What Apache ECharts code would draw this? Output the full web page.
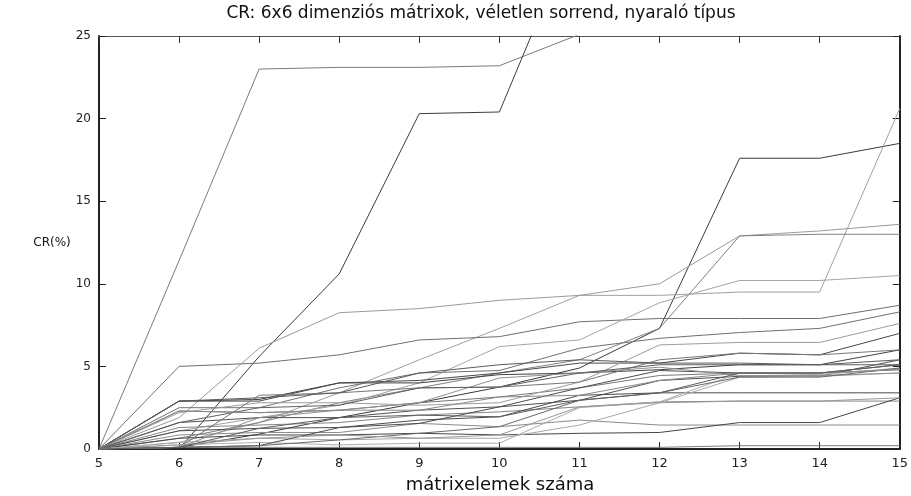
<!DOCTYPE html>
<html>
<head>
<meta charset="utf-8">
<script src="https://cdn.jsdelivr.net/npm/echarts@6/dist/echarts.min.js"></script>
<style>html,body{margin:0;padding:0;background:#fff}#c{width:911px;height:496px}</style>
</head>
<body>
<div id="c"></div>
<script>
const categories = [5, 6, 7, 8, 9, 10, 11, 12, 13, 14, 15];
const yTicks = [0, 5, 10, 15, 20, 25];

const s01 = [0, 11.4, 23.0, 23.1, 23.1, 23.2, 25.1, 27.5, 28.5, 29.5, 30.5];
const s02 = [0, 0.0, 5.6, 10.6, 20.3, 20.4, 32, 33, 34, 35, 36];
const s03 = [0, 0.1, 0.9, 1.9, 2.8, 3.75, 4.9, 7.3, 17.6, 17.6, 18.5];
const s04 = [0, 0.4, 1.6, 3.4, 5.4, 7.3, 9.3, 9.3, 9.5, 9.5, 20.6];
const s05 = [0, 5.0, 5.2, 5.7, 6.6, 6.8, 7.7, 7.9, 7.9, 7.9, 8.7];
const s06 = [0, 1.9, 6.1, 8.25, 8.5, 9.0, 9.3, 10.0, 12.9, 13.2, 13.6];
const s07 = [0, 0.65, 1.6, 2.8, 3.7, 4.6, 5.4, 7.3, 12.9, 13.0, 13.0];
const s08 = [0, 1.1, 1.9, 2.65, 4.0, 6.2, 6.6, 8.85, 10.2, 10.2, 10.5];
const s09 = [0, 2.9, 3.0, 4.0, 4.0, 4.5, 4.6, 4.8, 5.1, 5.1, 6.0];
const s10 = [0, 2.9, 2.9, 4.0, 4.15, 4.6, 5.2, 5.2, 5.8, 5.7, 7.0];
const s11 = [0, 2.5, 2.5, 3.7, 4.6, 4.75, 6.1, 6.7, 7.05, 7.3, 8.3];
const s12 = [0, 2.3, 2.2, 2.35, 2.8, 3.15, 3.7, 4.45, 4.6, 4.6, 4.8];
const s13 = [0, 2.2, 2.8, 2.8, 2.65, 2.8, 4.05, 6.3, 6.45, 6.45, 7.6];
const s14 = [0, 1.6, 1.9, 1.9, 2.35, 2.55, 2.95, 4.15, 4.4, 4.4, 5.4];
const s15 = [0, 1.3, 1.45, 1.6, 2.05, 2.25, 2.55, 2.85, 2.9, 2.9, 2.9];
const s16 = [0, 1.1, 1.25, 1.3, 1.75, 1.95, 3.25, 3.4, 3.4, 3.4, 3.4];
const s17 = [0, 0.85, 1.0, 1.0, 1.55, 1.35, 1.75, 1.45, 1.45, 1.45, 1.45];
const s18 = [0, 0.65, 0.85, 0.85, 0.95, 0.85, 0.95, 1.0, 1.6, 1.6, 3.1];
const s19 = [0, 0.4, 0.65, 0.55, 0.65, 0.65, 1.45, 2.8, 4.35, 4.4, 4.6];
const s20 = [0, 0.25, 0.4, 0.25, 0.35, 0.35, 2.5, 2.85, 4.6, 4.5, 4.9];
const s21 = [0, 0.1, 0.1, 0.1, 0.1, 0.1, 0.1, 0.1, 0.2, 0.2, 0.2];
const s22 = [0, 0.1, 0.2, 1.3, 1.55, 2.55, 3.7, 4.75, 4.6, 4.6, 5.1];
const s23 = [0, 0.1, 3.25, 3.4, 3.7, 3.75, 4.05, 5.4, 5.8, 5.7, 6.0];
const s24 = [0, 2.9, 3.1, 3.4, 4.6, 5.1, 5.4, 5.2, 5.2, 5.1, 5.4];
const s25 = [0, 0.1, 1.9, 2.35, 2.8, 4.3, 4.6, 4.95, 4.45, 4.45, 4.6];
const s26 = [0, 0.1, 0.2, 0.55, 0.95, 1.35, 2.95, 3.4, 4.35, 4.35, 4.9];
const s27 = [0, 0.25, 0.65, 0.85, 0.65, 0.85, 2.55, 2.8, 2.9, 2.9, 3.1];
const s28 = [0, 1.6, 2.5, 2.65, 3.7, 3.75, 4.6, 5.1, 5.1, 5.1, 5.1];
const s29 = [0, 2.3, 2.2, 2.35, 2.35, 3.15, 3.25, 4.15, 4.6, 4.6, 4.8];
const s30 = [0, 0.1, 1.25, 1.9, 2.05, 1.95, 2.95, 3.4, 4.6, 4.6, 5.1];

const allSeries = [s01,s02,s03,s04,s05,s06,s07,s08,s09,s10,s11,s12,s13,s14,s15,
                   s16,s17,s18,s19,s20,s21,s22,s23,s24,s25,s26,s27,s28,s29,s30];
const greys = ['#7a7a7a','#3c3c3c','#3a3a3a','#a0a0a0','#6e6e6e','#9a9a9a','#808080','#a4a4a4',
               '#404040','#484848','#707070','#777777','#9c9c9c','#505050','#858585','#4a4a4a',
               '#8a8a8a','#454545','#a8a8a8','#acacac','#7c7c7c','#4c4c4c','#767676','#5a5a5a',
               '#909090','#6a6a6a','#989898','#606060','#888888','#5e5e5e'];

const chart = echarts.init(document.getElementById('c'), null, {renderer: 'canvas'});
const font = 'DejaVu Sans';
const axisCommon = {
  type: 'value', min: 5, max: 15, interval: 1,
  splitLine: {show: false}
};
chart.setOption({
  animation: false,
  backgroundColor: '#fff',
  grid: {left: 99, right: 6, top: 36, bottom: 47, containLabel: false},
  graphic: [
    {type: 'text', x: 481, y: 14, style: {text: 'CR: 6x6 dimenziós mátrixok, véletlen sorrend, nyaraló típus', font: '17px "DejaVu Sans"', fill: '#111', textAlign: 'center', textVerticalAlign: 'middle'}},
    {type: 'text', x: 52, y: 243, style: {text: 'CR(%)', font: '12px "DejaVu Sans"', fill: '#111', textAlign: 'center', textVerticalAlign: 'middle'}},
    {type: 'text', x: 500, y: 485, style: {text: 'mátrixelemek száma', font: '18px "DejaVu Sans"', fill: '#111', textAlign: 'center', textVerticalAlign: 'middle'}}
  ],
  xAxis: [
    Object.assign({}, axisCommon, {
      position: 'bottom',
      axisLine: {show: true, onZero: false, lineStyle: {color: '#222', width: 2}},
      axisTick: {show: true, inside: true, length: 7, lineStyle: {color: '#222'}},
      axisLabel: {show: true, margin: 8, color: '#222', fontFamily: font, fontSize: 13,
        formatter: v => categories.indexOf(v) >= 0 ? String(v) : ''}
    }),
    Object.assign({}, axisCommon, {
      position: 'top',
      axisLine: {show: true, onZero: false, lineStyle: {color: '#555', width: 1}},
      axisTick: {show: true, inside: true, length: 7, lineStyle: {color: '#333'}},
      axisLabel: {show: false}
    })
  ],
  yAxis: [
    {
      type: 'value', min: 0, max: 25, interval: 5, position: 'left',
      splitLine: {show: false},
      axisLine: {show: true, onZero: false, lineStyle: {color: '#222', width: 2}},
      axisTick: {show: true, inside: true, length: 7, lineStyle: {color: '#222'}},
      axisLabel: {show: true, margin: 8, color: '#222', fontFamily: font, fontSize: 12,
        formatter: v => yTicks.indexOf(v) >= 0 ? String(v) : ''}
    },
    {
      type: 'value', min: 0, max: 25, interval: 5, position: 'right',
      splitLine: {show: false},
      axisLine: {show: true, onZero: false, lineStyle: {color: '#222', width: 2}},
      axisTick: {show: true, inside: true, length: 7, lineStyle: {color: '#222'}},
      axisLabel: {show: false}
    }
  ],
  series: allSeries.map((vals, i) => ({
    type: 'line',
    xAxisIndex: 0, yAxisIndex: 0,
    data: categories.map((x, j) => [x, vals[j]]),
    showSymbol: false,
    symbol: 'none',
    clip: true,
    lineStyle: {width: 1, color: greys[i % greys.length]},
    emphasis: {disabled: true}
  }))
});
</script>
</body>
</html>
